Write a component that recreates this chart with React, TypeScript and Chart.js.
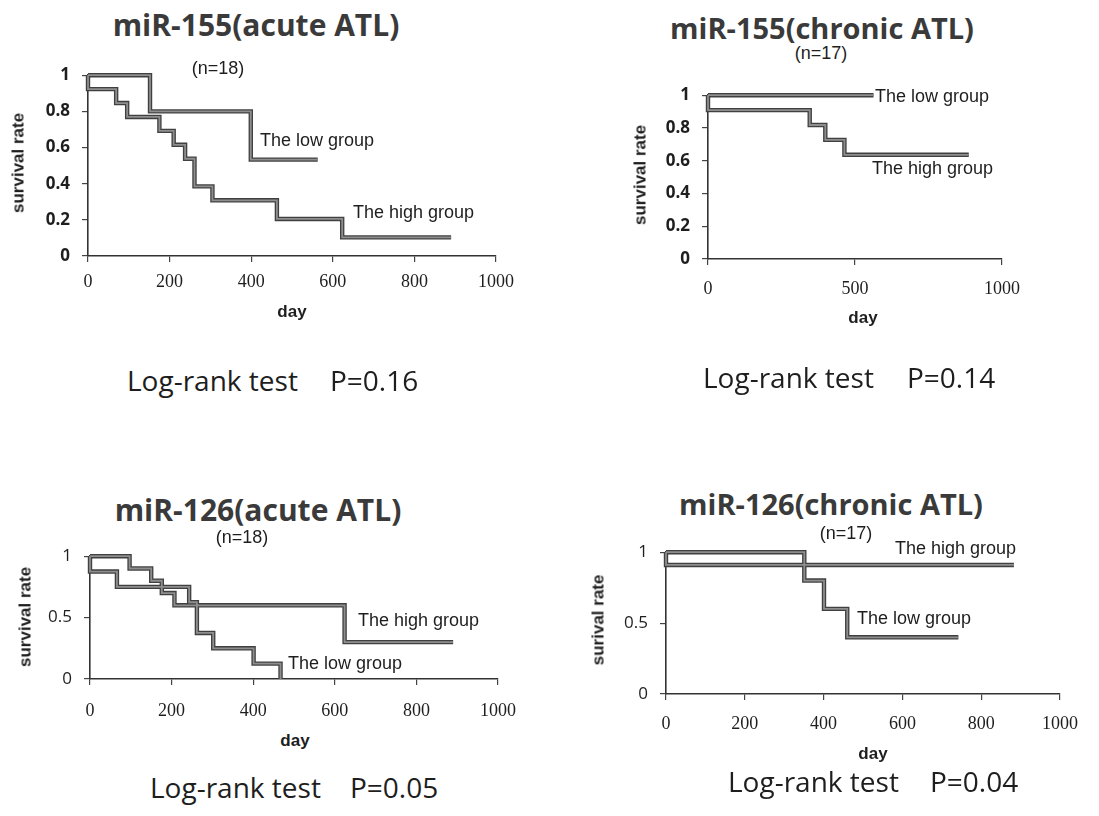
import React, { useEffect, useRef } from "react";
import { Chart, registerables } from "chart.js";
Chart.register(...registerables);

// ---------- data ----------
const DAY_TICKS_200 = [0, 200, 400, 600, 800, 1000];
const DAY_TICKS_500 = [0, 500, 1000];
const RATE_TICKS_02 = [0, 0.2, 0.4, 0.6, 0.8, 1];
const RATE_TICKS_05 = [0, 0.5, 1];

// miR-155 (acute ATL)
const mir155AcuteLowDays = [0, 152, 399, 563];
const mir155AcuteLowRate = [1, 0.8, 0.533, 0.533];
const mir155AcuteHighDays = [0, 0, 69, 96, 175, 210, 238, 261, 305, 463, 623, 890];
const mir155AcuteHighRate = [1, 0.923, 0.846, 0.769, 0.692, 0.615, 0.538, 0.385, 0.308, 0.205, 0.103, 0.103];

// miR-155 (chronic ATL)
const mir155ChronicLowDays = [0, 563];
const mir155ChronicLowRate = [1, 1];
const mir155ChronicHighDays = [0, 0, 346, 399, 464, 887];
const mir155ChronicHighRate = [1, 0.909, 0.818, 0.727, 0.636, 0.636];

// miR-126 (acute ATL)
const mir126AcuteHighDays = [0, 97, 150, 176, 207, 624, 890];
const mir126AcuteHighRate = [1, 0.9, 0.8, 0.7, 0.6, 0.3, 0.3];
const mir126AcuteLowDays = [0, 0, 66, 243, 262, 302, 401, 467];
const mir126AcuteLowRate = [1, 0.875, 0.75, 0.625, 0.375, 0.25, 0.125, 0];

// miR-126 (chronic ATL)
const mir126ChronicLowDays = [0, 351, 401, 460, 742];
const mir126ChronicLowRate = [1, 0.8, 0.6, 0.4, 0.4];
const mir126ChronicHighDays = [0, 0, 883];
const mir126ChronicHighRate = [1, 0.91, 0.91];

// ---------- layout ----------
const PAD_L = 80;
const PAD_T = 20;
const PAD_R = 40;
const PAD_B = 50;

type Box = { l: number; t: number; r: number; b: number };
type Group = { days: number[]; rate: number[] };

function fmt(v: number) {
  return String(Number(Number(v).toFixed(2)));
}

function KMChart(props: {
  box: Box;
  xTicks: number[];
  yTicks: number[];
  groups: Group[];
  yBold: boolean;
  xPad: number;
}) {
  const ref = useRef<HTMLCanvasElement>(null);
  const { box, xTicks, yTicks, groups, yBold, xPad } = props;
  const w = box.r - box.l + PAD_L + PAD_R;
  const h = box.b - box.t + PAD_T + PAD_B;

  useEffect(() => {
    const canvas = ref.current;
    if (!canvas) return;
    const datasets: any[] = [];
    groups.forEach((g) => {
      const data = g.days.map((d, k) => ({ x: d, y: g.rate[k] }));
      datasets.push({
        data,
        borderColor: "#404040",
        borderWidth: 4.4,
        stepped: "before",
        pointRadius: 0,
        clip: false,
        order: 2,
        borderJoinStyle: "miter",
        borderCapStyle: "butt",
      });
      datasets.push({
        data,
        borderColor: "#8e8e8e",
        borderWidth: 1.8,
        stepped: "before",
        pointRadius: 0,
        clip: false,
        order: 1,
        borderJoinStyle: "miter",
        borderCapStyle: "butt",
      });
    });
    const chart = new Chart(canvas, {
      type: "line",
      data: { datasets },
      options: {
        animation: false,
        responsive: false,
        devicePixelRatio: 1,
        layout: { padding: { left: 0, top: PAD_T, right: PAD_R, bottom: 0 } },
        plugins: { legend: { display: false }, tooltip: { enabled: false }, title: { display: false } },
        scales: {
          x: {
            type: "linear",
            min: xTicks[0],
            max: xTicks[xTicks.length - 1],
            afterBuildTicks: (s: any) => {
              s.ticks = xTicks.map((v) => ({ value: v }));
            },
            afterFit: (s: any) => {
              s.height = PAD_B;
            },
            grid: { drawOnChartArea: false, drawTicks: true, tickLength: 6, color: "#444", lineWidth: 1.2 },
            border: { display: true, color: "#333", width: 1.6 },
            ticks: {
              autoSkip: false,
              maxRotation: 0,
              padding: xPad,
              color: "#1e1e1e",
              font: { family: "'Liberation Serif', serif", size: 18 },
              callback: (v: any) => fmt(v),
            },
          },
          y: {
            type: "linear",
            min: yTicks[0],
            max: yTicks[yTicks.length - 1],
            afterBuildTicks: (s: any) => {
              s.ticks = yTicks.map((v) => ({ value: v }));
            },
            afterFit: (s: any) => {
              s.width = PAD_L;
            },
            grid: { drawOnChartArea: false, drawTicks: true, tickLength: 6, color: "#444", lineWidth: 1.2 },
            border: { display: true, color: "#333", width: 1.6 },
            ticks: {
              autoSkip: false,
              padding: 12,
              color: "#1e1e1e",
              font: { family: "'Open Sans', sans-serif", size: 17, weight: yBold ? "bold" : "normal" },
              callback: (v: any) => fmt(v),
            },
          },
        },
      },
    } as any);
    return () => chart.destroy();
  }, []);

  return (
    <canvas
      ref={ref}
      width={w}
      height={h}
      style={{ position: "absolute", left: box.l - PAD_L, top: box.t - PAD_T, width: w, height: h }}
    />
  );
}

function Txt(props: {
  x: number;
  y: number;
  text: string;
  size: number;
  family: string;
  bold?: boolean;
  color?: string;
  align?: "left" | "center";
  rotate?: boolean;
}) {
  const { x, y, text, size, family, bold, color, align, rotate } = props;
  const tx = align === "left" ? "0" : "-50%";
  return (
    <div
      style={{
        position: "absolute",
        left: x,
        top: y,
        transform: `translate(${tx}, -50%)${rotate ? " rotate(-90deg)" : ""}`,
        fontFamily: family,
        fontSize: size,
        fontWeight: bold ? "bold" : "normal",
        color: color || "#1e1e1e",
        whiteSpace: "pre",
        lineHeight: 1,
      }}
    >
      {text}
    </div>
  );
}

const TITLE_FONT = "'Open Sans', sans-serif";
const ARIAL = "'Liberation Sans', Arial, sans-serif";

export default function App() {
  return (
    <div style={{ position: "absolute", left: 0, top: 0, width: 1099, height: 816, background: "#fff", overflow: "hidden" }}>
      {/* Panel 1 */}
      <KMChart
        box={{ l: 88, t: 73, r: 496, b: 256 }}
        xTicks={DAY_TICKS_200}
        yTicks={RATE_TICKS_02}
        groups={[
          { days: mir155AcuteHighDays, rate: mir155AcuteHighRate },
          { days: mir155AcuteLowDays, rate: mir155AcuteLowRate },
        ]}
        yBold={true}
        xPad={9}
      />
      <Txt x={256} y={25} text="miR-155(acute ATL)" size={30} family={TITLE_FONT} bold color="#3a3a3a" />
      <Txt x={218} y={68} text="(n=18)" size={18} family={ARIAL} />
      <Txt x={18} y={163} text="survival rate" size={17} family={ARIAL} bold rotate />
      <Txt x={292} y={311} text="day" size={17} family={ARIAL} bold />
      <Txt x={260} y={140} text="The low group" size={18} family={ARIAL} align="left" />
      <Txt x={353} y={212} text="The high group" size={18} family={ARIAL} align="left" />
      <Txt x={127} y={380} text="Log-rank test" size={28} family={TITLE_FONT} align="left" />
      <Txt x={330} y={380} text="P=0.16" size={28} family={TITLE_FONT} align="left" />

      {/* Panel 2 */}
      <KMChart
        box={{ l: 708, t: 93, r: 1002, b: 259 }}
        xTicks={DAY_TICKS_500}
        yTicks={RATE_TICKS_02}
        groups={[
          { days: mir155ChronicHighDays, rate: mir155ChronicHighRate },
          { days: mir155ChronicLowDays, rate: mir155ChronicLowRate },
        ]}
        yBold={true}
        xPad={13}
      />
      <Txt x={822} y={27} text="miR-155(chronic ATL)" size={29} family={TITLE_FONT} bold color="#3a3a3a" />
      <Txt x={821} y={53} text="(n=17)" size={18} family={ARIAL} />
      <Txt x={640} y={175} text="survival rate" size={17} family={ARIAL} bold rotate />
      <Txt x={863} y={317} text="day" size={17} family={ARIAL} bold />
      <Txt x={875} y={96} text="The low group" size={18} family={ARIAL} align="left" />
      <Txt x={872} y={168} text="The high group" size={18} family={ARIAL} align="left" />
      <Txt x={703} y={377} text="Log-rank test" size={28} family={TITLE_FONT} align="left" />
      <Txt x={907} y={377} text="P=0.14" size={28} family={TITLE_FONT} align="left" />

      {/* Panel 3 */}
      <KMChart
        box={{ l: 90, t: 554, r: 498, b: 679 }}
        xTicks={DAY_TICKS_200}
        yTicks={RATE_TICKS_05}
        groups={[
          { days: mir126AcuteHighDays, rate: mir126AcuteHighRate },
          { days: mir126AcuteLowDays, rate: mir126AcuteLowRate },
        ]}
        yBold={false}
        xPad={15}
      />
      <Txt x={258} y={510} text="miR-126(acute ATL)" size={30} family={TITLE_FONT} bold color="#3a3a3a" />
      <Txt x={242} y={537} text="(n=18)" size={18} family={ARIAL} />
      <Txt x={25} y={617} text="survival rate" size={17} family={ARIAL} bold rotate />
      <Txt x={295} y={740} text="day" size={17} family={ARIAL} bold />
      <Txt x={358} y={620} text="The high group" size={18} family={ARIAL} align="left" />
      <Txt x={288} y={663} text="The low group" size={18} family={ARIAL} align="left" />
      <Txt x={150} y={787} text="Log-rank test" size={28} family={TITLE_FONT} align="left" />
      <Txt x={350} y={787} text="P=0.05" size={28} family={TITLE_FONT} align="left" />

      {/* Panel 4 */}
      <KMChart
        box={{ l: 666, t: 550, r: 1060, b: 694 }}
        xTicks={DAY_TICKS_200}
        yTicks={RATE_TICKS_05}
        groups={[
          { days: mir126ChronicHighDays, rate: mir126ChronicHighRate },
          { days: mir126ChronicLowDays, rate: mir126ChronicLowRate },
        ]}
        yBold={false}
        xPad={13}
      />
      <Txt x={831} y={503} text="miR-126(chronic ATL)" size={29} family={TITLE_FONT} bold color="#3a3a3a" />
      <Txt x={846} y={533} text="(n=17)" size={18} family={ARIAL} />
      <Txt x={598} y={620} text="surival rate" size={17} family={ARIAL} bold rotate />
      <Txt x={873} y={753} text="day" size={17} family={ARIAL} bold />
      <Txt x={895} y={548} text="The high group" size={18} family={ARIAL} align="left" />
      <Txt x={857} y={618} text="The low group" size={18} family={ARIAL} align="left" />
      <Txt x={728} y={781} text="Log-rank test" size={28} family={TITLE_FONT} align="left" />
      <Txt x={930} y={781} text="P=0.04" size={28} family={TITLE_FONT} align="left" />
    </div>
  );
}
